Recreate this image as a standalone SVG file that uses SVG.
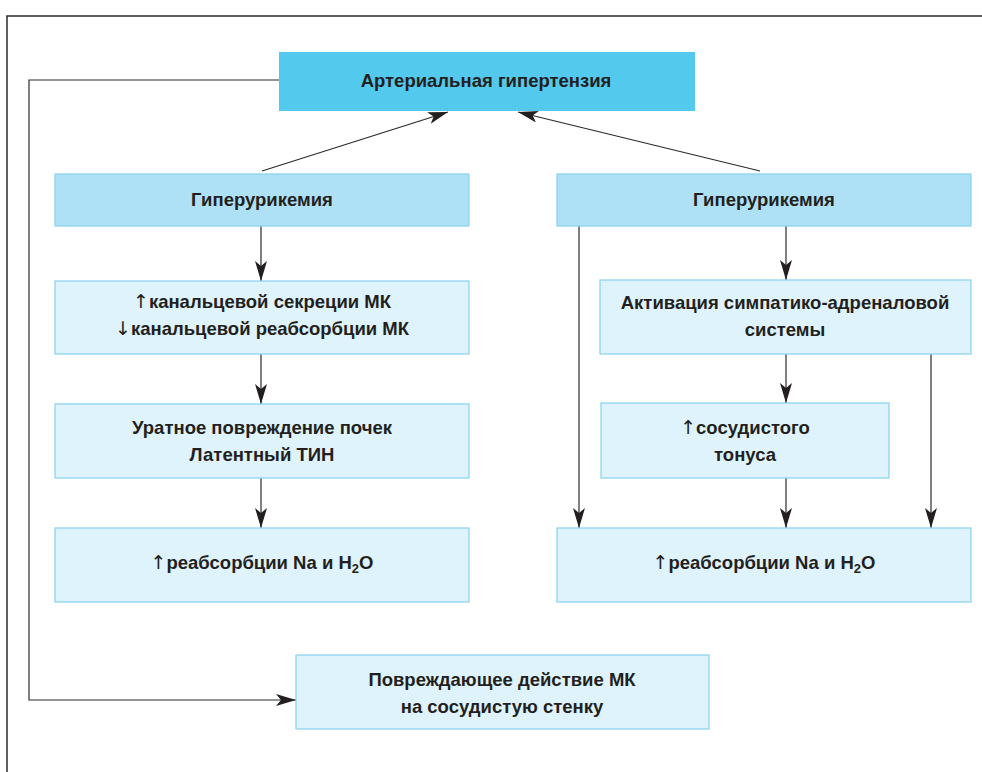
<svg xmlns="http://www.w3.org/2000/svg" width="982" height="772" viewBox="0 0 982 772">
<style>
.t{font-family:"Liberation Sans",Arial,sans-serif;font-weight:bold;font-size:18.5px;fill:#231f20;text-anchor:middle}
.ar{font-family:"DejaVu Sans",sans-serif;font-weight:normal;font-size:19px}
.top{fill:#53c9ee}
.l2{fill:#afe1f6;stroke:#86d3f1;stroke-width:1.2}
.l3{fill:#def3fb;stroke:#86d3f1;stroke-width:1.2}
.c{fill:none;stroke:#2b2b2b;stroke-width:1.2}
.frame{fill:none;stroke:#2b2b2b;stroke-width:1.5}
</style>
<defs>
<marker id="ah" viewBox="0 0 20 12" refX="20" refY="6" markerWidth="20" markerHeight="12" markerUnits="userSpaceOnUse" orient="auto">
<path d="M0,0 L20,6 L0,12 L5,6 Z" fill="#231f20"/>
</marker>
</defs>
<rect width="982" height="772" fill="#ffffff"/>
<path class="frame" d="M7,772 V16 H982"/>

<g id="connectors">
<path class="c" d="M279,80 H29 V700 H296" marker-end="url(#ah)"/>
<path class="c" d="M262,171 L448,112" marker-end="url(#ah)"/>
<path class="c" d="M760,171 L518,112" marker-end="url(#ah)"/>
<path class="c" d="M261,226 V281" marker-end="url(#ah)"/>
<path class="c" d="M261,354 V404" marker-end="url(#ah)"/>
<path class="c" d="M261,478 V528" marker-end="url(#ah)"/>
<path class="c" d="M786,226 V280" marker-end="url(#ah)"/>
<path class="c" d="M579,226 V528" marker-end="url(#ah)"/>
<path class="c" d="M786,354 V403" marker-end="url(#ah)"/>
<path class="c" d="M786,478 V528" marker-end="url(#ah)"/>
<path class="c" d="M931,354 V528" marker-end="url(#ah)"/>
</g>

<g id="n-ag">
<rect class="top" x="279" y="52" width="416" height="59"/>
<text class="t" x="486" y="87">Артериальная гипертензия</text>
</g>

<g id="n-hyper-l">
<rect class="l2" x="55" y="174" width="414" height="52"/>
<text class="t" x="262" y="206">Гиперурикемия</text>
</g>

<g id="n-hyper-r">
<rect class="l2" x="557" y="174" width="414" height="52"/>
<text class="t" x="764" y="206">Гиперурикемия</text>
</g>

<g id="n-kanal">
<rect class="l3" x="55" y="281" width="414" height="73"/>
<text class="t" x="262" y="308"><tspan class="ar">↑</tspan>канальцевой секреции МК</text>
<text class="t" x="262" y="335"><tspan class="ar">↓</tspan>канальцевой реабсорбции МК</text>
</g>

<g id="n-urat">
<rect class="l3" x="55" y="404" width="414" height="74"/>
<text class="t" x="262" y="434">Уратное повреждение почек</text>
<text class="t" x="262" y="461">Латентный ТИН</text>
</g>

<g id="n-reabs-l">
<rect class="l3" x="55" y="528" width="414" height="74"/>
<text class="t" x="262" y="569"><tspan class="ar">↑</tspan>реабсорбции Na и H<tspan font-size="13" dy="4">2</tspan><tspan dy="-4">O</tspan></text>
</g>

<g id="n-symp">
<rect class="l3" x="600" y="280" width="371" height="74"/>
<text class="t" x="785" y="309">Активация симпатико-адреналовой</text>
<text class="t" x="785" y="336">системы</text>
</g>

<g id="n-tonus">
<rect class="l3" x="601" y="403" width="288" height="75"/>
<text class="t" x="745" y="434"><tspan class="ar">↑</tspan>сосудистого</text>
<text class="t" x="745" y="461">тонуса</text>
</g>

<g id="n-reabs-r">
<rect class="l3" x="557" y="528" width="414" height="74"/>
<text class="t" x="764" y="569"><tspan class="ar">↑</tspan>реабсорбции Na и H<tspan font-size="13" dy="4">2</tspan><tspan dy="-4">O</tspan></text>
</g>

<g id="n-damage">
<rect class="l3" x="296" y="655" width="413" height="74"/>
<text class="t" x="502" y="686">Повреждающее действие МК</text>
<text class="t" x="502" y="713">на сосудистую стенку</text>
</g>
</svg>
